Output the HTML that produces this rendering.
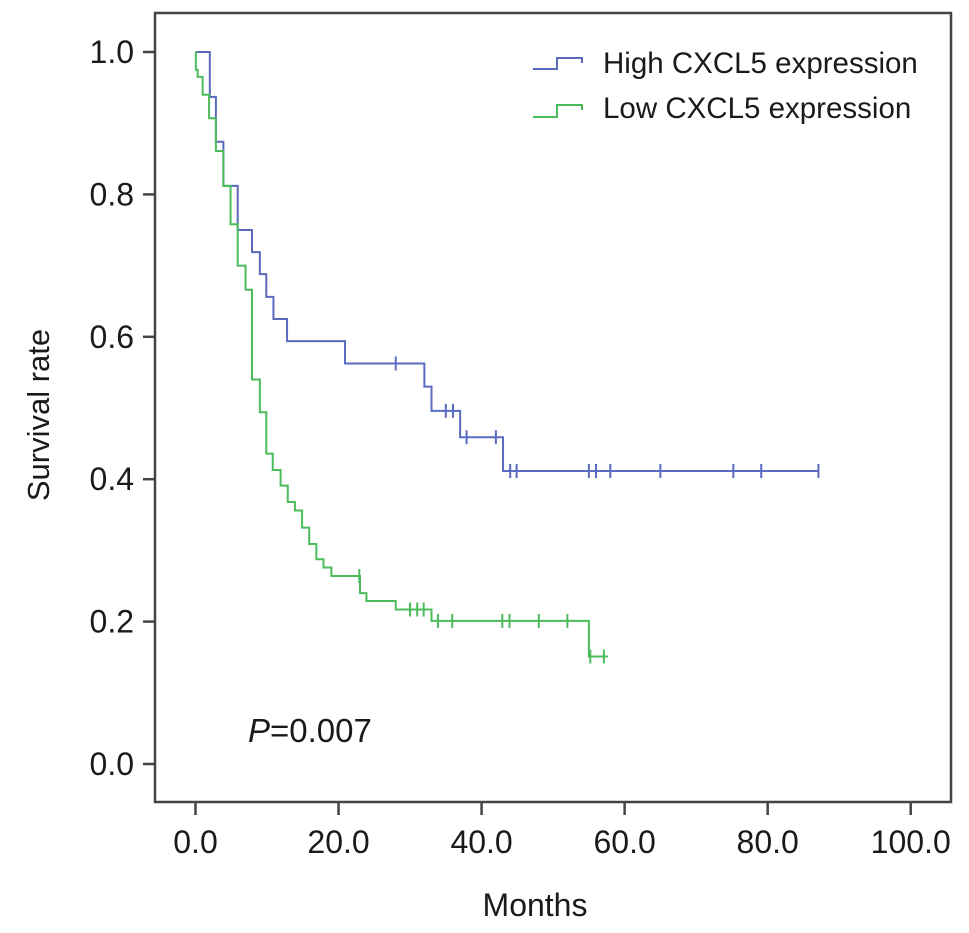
<!DOCTYPE html>
<html><head><meta charset="utf-8"><style>
html,body{margin:0;padding:0;background:#fff;}
svg text{font-family:"Liberation Sans",Arial,sans-serif;fill:#1a1a1a;}
</style></head><body>
<svg id="chart" width="969" height="928" viewBox="0 0 969 928" xmlns="http://www.w3.org/2000/svg">
<rect x="155" y="13" width="796" height="789" fill="none" stroke="#444" stroke-width="2.5"/>
<g id="yaxis"></g>
<g id="xaxis"></g>
<g id="series"></g>
<text x="0" y="0" font-size="31" text-anchor="middle" transform="translate(49,415) rotate(-90)">Survival rate</text>
<text x="535" y="916" font-size="32" text-anchor="middle">Months</text>
<text x="248" y="742" font-size="33"><tspan font-style="italic">P</tspan>=0.007</text>
<g>
<path d="M533,69 H557 V58 H582 V63" fill="none" stroke="#5a6abf" stroke-width="2"/>
<text x="603" y="73" font-size="29.5">High CXCL5 expression</text>
<path d="M533,117 H557 V105 H582 V110" fill="none" stroke="#4cbb5c" stroke-width="2"/>
<text x="603" y="118" font-size="29.5">Low CXCL5 expression</text>
</g>
</svg>
<script>
const yTicks=[0,0.2,0.4,0.6,0.8,1.0];
const yTickLabels=["0.0","0.2","0.4","0.6","0.8","1.0"];
const xTicks=[0,20,40,60,80,100];
const xTickLabels=["0.0","20.0","40.0","60.0","80.0","100.0"];
// step times and survival level after each step
const highTimes=[0,2.0,2.85,3.9,5.9,7.9,9.0,9.9,10.9,12.8,20.9,32.0,33.0,37.0,43.0,87.1];
const highSurv=[1.0,0.937,0.874,0.812,0.75,0.719,0.688,0.656,0.625,0.594,0.5625,0.53,0.496,0.459,0.4115,0.4115];
const highCensor=[28,35,36,37.9,42,44,44.9,55,56,58,65,75.2,79.1,87.1];
const lowTimes=[0,0.05,0.3,1.0,1.9,2.85,3.9,4.9,5.9,7.0,7.9,9.0,9.9,10.8,11.9,12.9,13.9,14.9,15.9,16.9,17.9,19.0,23.0,23.9,28.0,33.0,55.0,57.7];
const lowSurv=[1.0,0.975,0.965,0.94,0.907,0.861,0.812,0.758,0.70,0.666,0.54,0.494,0.436,0.413,0.391,0.368,0.356,0.332,0.309,0.2875,0.276,0.264,0.240,0.229,0.217,0.201,0.151,0.151];
const lowCensor=[22.9,30,31,31.9,33.9,35.9,42.9,43.9,48,52,55.2,57.1];

const NS="http://www.w3.org/2000/svg";
const X=m=>195.5+m*7.152;
const Y=v=>764-v*712;
function mk(tag,attrs,parent){const e=document.createElementNS(NS,tag);for(const k in attrs)e.setAttribute(k,attrs[k]);parent.appendChild(e);return e;}
const ya=document.getElementById('yaxis'),xa=document.getElementById('xaxis'),sg=document.getElementById('series');
yTicks.forEach((v,i)=>{
  const t=mk('line',{x1:143,x2:155,y1:Y(v),y2:Y(v),stroke:'#444','stroke-width':2.5},ya);
  
  
  const l=mk('text',{x:134,y:Y(v)+11,'font-size':32,'text-anchor':'end'},ya);
  l.textContent=yTickLabels[i];
  
  
});
xTicks.forEach((m,i)=>{
  const t=mk('line',{x1:X(m),x2:X(m),y1:802,y2:815,stroke:'#444','stroke-width':2.5},xa);
  
  
  const l=mk('text',{x:X(m),y:853,'font-size':32,'text-anchor':'middle'},xa);
  l.textContent=xTickLabels[i];
  
  
});
function survAt(times,surv,t){let s=surv[0];for(let i=0;i<times.length;i++){if(times[i]<=t+1e-9)s=surv[i];}return s;}
function drawCurve(times,surv,censor,color,name){
  let d='M'+X(times[0])+','+Y(surv[0]);
  for(let i=1;i<times.length;i++){d+=' H'+X(times[i])+' V'+Y(surv[i]);}
  const p=mk('path',{d:d,fill:'none',stroke:color,'stroke-width':2},sg);
  
  
  censor.forEach(c=>{
    const y=Y(survAt(times,surv,c));
    const m=mk('line',{x1:X(c),x2:X(c),y1:y-7,y2:y+7,stroke:color,'stroke-width':2},sg);
    
    
  });
}
drawCurve(highTimes,highSurv,highCensor,'#5a6abf','high-cxcl5');
drawCurve(lowTimes,lowSurv,lowCensor,'#4cbb5c','low-cxcl5');
</script>
</body></html>
